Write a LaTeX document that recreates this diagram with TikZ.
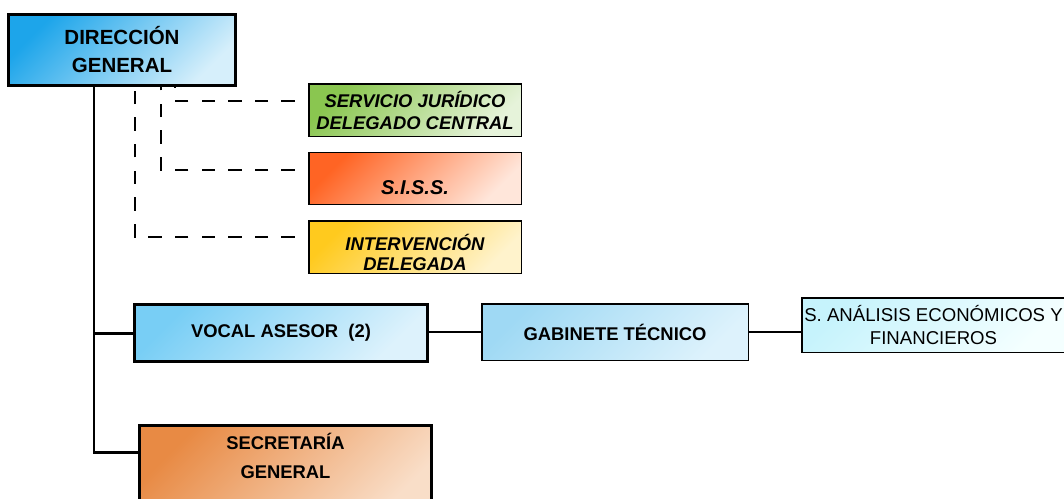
\documentclass[tikz,border=0pt]{standalone}
\usepackage{fontspec}
\setmainfont{Liberation Sans}
\definecolor{dgA}{HTML}{1DA5EA}\definecolor{dgB}{HTML}{D6EFFB}
\definecolor{vocA}{HTML}{78CEF5}\definecolor{vocB}{HTML}{DDF2FC}
\definecolor{gabA}{HTML}{9FD9F4}\definecolor{gabB}{HTML}{DDF2FC}
\definecolor{saeA}{HTML}{C6F3FC}\definecolor{saeB}{HTML}{F4FFFF}
\definecolor{sjdA}{HTML}{8AC650}\definecolor{sjdB}{HTML}{E6F3DA}
\definecolor{sisA}{HTML}{FF6424}\definecolor{sisB}{HTML}{FFE6DA}
\definecolor{intA}{HTML}{FFCA1E}\definecolor{intB}{HTML}{FFF3CC}
\definecolor{sgA}{HTML}{E88A44}\definecolor{sgB}{HTML}{F9DEC8}
\tikzset{
  unit/.style={draw, rectangle, inner sep=0pt, align=center, line width=1.5pt,
    font=\bfseries\fontsize{18.4}{22}\selectfont},
  head/.style={unit, line width=3pt},
  aux/.style={unit, font=\bfseries\itshape\fontsize{18.4}{22}\selectfont},
  grad/.style 2 args={top color=#1, bottom color=#2, shading angle=45},
  trunk/.style={line width=2pt, line cap=rect},
  branch/.style={line width=3pt, line cap=rect},
  link/.style={line width=1.5pt},
  dep/.style={line width=2pt, dash pattern=on 13.3pt off 13.3pt, dash phase=13.3pt}
}
\begin{document}
\begin{tikzpicture}[x=1pt,y=-1pt]
  \useasboundingbox (0,0) rectangle (1064,498);
  \node (dg) at (122,50) [head, minimum width=227pt, minimum height=71pt,
    grad={dgA}{dgB}, font=\bfseries\fontsize{20.5}{28}\selectfont] {DIRECCIÓN\\GENERAL};
  \node (sjd) at (415,110) [aux, minimum width=212.5pt, minimum height=52.5pt,
    grad={sjdA}{sjdB}] {SERVICIO JURÍDICO\\DELEGADO CENTRAL};
  \node (siss) at (415,178.5) [aux, minimum width=212.5pt, minimum height=52pt,
    grad={sisA}{sisB}, font=\bfseries\itshape\fontsize{20}{22}\selectfont]
    {\raisebox{-9.5pt}[\height][\depth]{S.I.S.S.}};
  \node (interv) at (415,247) [aux, minimum width=212.5pt, minimum height=52.5pt,
    grad={intA}{intB}, font=\bfseries\itshape\fontsize{18.4}{20}\selectfont]
    {\raisebox{-8pt}[\height][\depth]{\begin{tabular}{@{}c@{}}INTERVENCIÓN\\DELEGADA\end{tabular}}};
  \node (vocal) at (281,333) [head, minimum width=293pt, minimum height=57pt,
    grad={vocA}{vocB}] {VOCAL ASESOR\ \ (2)};
  \node (gab) at (615,332) [unit, minimum width=266.5pt, minimum height=56.5pt,
    grad={gabA}{gabB}] {GABINETE TÉCNICO};
  \node (sae) at (933.5,325) [unit, minimum width=263.5pt, minimum height=54.5pt,
    grad={saeA}{saeB}, font=\fontsize{18.6}{23}\selectfont] {S. ANÁLISIS ECONÓMICOS Y\\FINANCIEROS};
  \node (sg) at (285.5,472) [head, minimum width=292pt, minimum height=93pt,
    grad={sgA}{sgB}, font=\bfseries\fontsize{18.4}{29}\selectfont]
    {\raisebox{14pt}[\height][\depth]{\begin{tabular}{@{}c@{}}SECRETARÍA\\GENERAL\end{tabular}}};
  \coordinate (t) at ([xshift=-28pt]dg.south);
  \coordinate (sgj) at ([yshift=-28.5pt]sg.north west);
  \draw[trunk] (t) -- (t |- sgj);
  \draw[branch] (t |- vocal.west) -- (vocal.west);
  \draw[branch] (t |- sgj) -- (sgj);
  \draw[link] (gab.west -| vocal.east) -- (gab.west);
  \draw[link] (gab.east) -- (gab.east -| sae.west);
  \draw[dep] ([yshift=9pt]sjd.west) -| ([xshift=53pt]dg.south);
  \draw[dep] ([yshift=9pt]siss.west) -| ([xshift=39pt]dg.south);
  \draw[dep] ([yshift=10pt]interv.west) -| ([xshift=13pt]dg.south);
\end{tikzpicture}
\end{document}
